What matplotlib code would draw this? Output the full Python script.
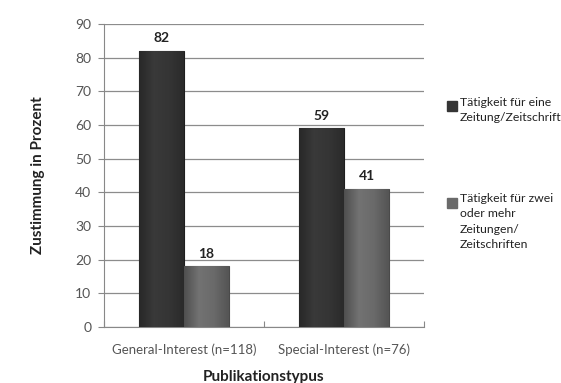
import numpy as np
import matplotlib
matplotlib.use("Agg")
import matplotlib.pyplot as plt
from matplotlib.colors import LinearSegmentedColormap

categories = ["General-Interest (n=118)", "Special-Interest (n=76)"]
series_names = ["Tätigkeit für eine\nZeitung/Zeitschrift",
                "Tätigkeit für zwei\noder mehr\nZeitungen/\nZeitschriften"]
values_one = [82, 59]
values_multi = [18, 41]
y_ticks = [0, 10, 20, 30, 40, 50, 60, 70, 80, 90]

plt.rcParams['font.family'] = ['Lato', 'DejaVu Sans']

fig = plt.figure(figsize=(5.61, 3.83), dpi=100)
ax = fig.add_axes([0.185, 0.146, 0.571, 0.791])

x = np.arange(len(categories))
w = 0.28
base_colors = ["#353535", "#6a6a6a"]
edge_colors = ["#1e1e1e", "#4a4a4a"]

all_bars = []
for i, (vals, col, ec) in enumerate(zip([values_one, values_multi], base_colors, edge_colors)):
    bars = ax.bar(x + (i - 0.5) * w, vals, width=w, color=col, edgecolor=ec,
                  linewidth=0.8, zorder=3, label=series_names[i])
    all_bars.append((bars, col))
    for b, v in zip(bars, vals):
        ax.annotate(str(v), (b.get_x() + b.get_width() / 2, v), xytext=(0, 5),
                    textcoords="offset points", ha="center", va="bottom",
                    fontsize=10, fontweight="bold", color="#222222")

# soft horizontal shading on each bar
for bars, col in all_bars:
    rgb = np.array(matplotlib.colors.to_rgb(col))
    cmap = LinearSegmentedColormap.from_list(
        "shade", [rgb * 0.75, np.minimum(rgb * 1.08, 1), rgb, rgb * 0.8])
    grad = np.linspace(0, 1, 64).reshape(1, -1)
    for b in bars:
        x0, y0 = b.get_x(), b.get_y()
        im = ax.imshow(grad, extent=[x0, x0 + b.get_width(), y0, y0 + b.get_height()],
                       aspect="auto", cmap=cmap, zorder=3.5, origin="lower")
        im.set_clip_path(b)

ax.set_xlim(-0.5, 1.5)
ax.set_ylim(0, 90)
ax.set_yticks(y_ticks)
ax.set_xticks([-0.5, 0.5, 1.5], minor=False)
ax.set_xticklabels([])
ax.set_xticks(x, minor=True)
ax.set_xticklabels(categories, minor=True, fontsize=9.5, color="#555555")
ax.tick_params(axis="x", which="minor", length=0, pad=12)
ax.tick_params(axis="x", which="major", length=4, color="#888888", direction="in")
ax.tick_params(axis="y", labelsize=10, labelcolor="#555555", length=4, color="#888888", pad=5)
ax.grid(axis="y", color="#8c8c8c", linewidth=0.9, zorder=0)
for s in ["top", "right"]:
    ax.spines[s].set_visible(False)
ax.spines["left"].set_color("#888888")
ax.spines["bottom"].set_color("#888888")

ax.set_ylabel("Zustimmung in Prozent", fontsize=11, fontweight="bold", color="#222222", labelpad=22)
ax.set_xlabel("Publikationstypus", fontsize=11, fontweight="bold", color="#222222", labelpad=10)

# legend entries at the right margin
marker_y = [0.710, 0.457]
text_top = [0.748, 0.495]
for name, col, my, ty in zip(series_names, base_colors, marker_y, text_top):
    fig.patches.append(plt.Rectangle((0.797, my), 0.018, 0.026, color=col,
                                     transform=fig.transFigure, figure=fig))
    fig.text(0.820, ty, name, fontsize=8.8, color="#222222", va="top",
             linespacing=1.45)

fig.savefig("out.png", dpi=100)
